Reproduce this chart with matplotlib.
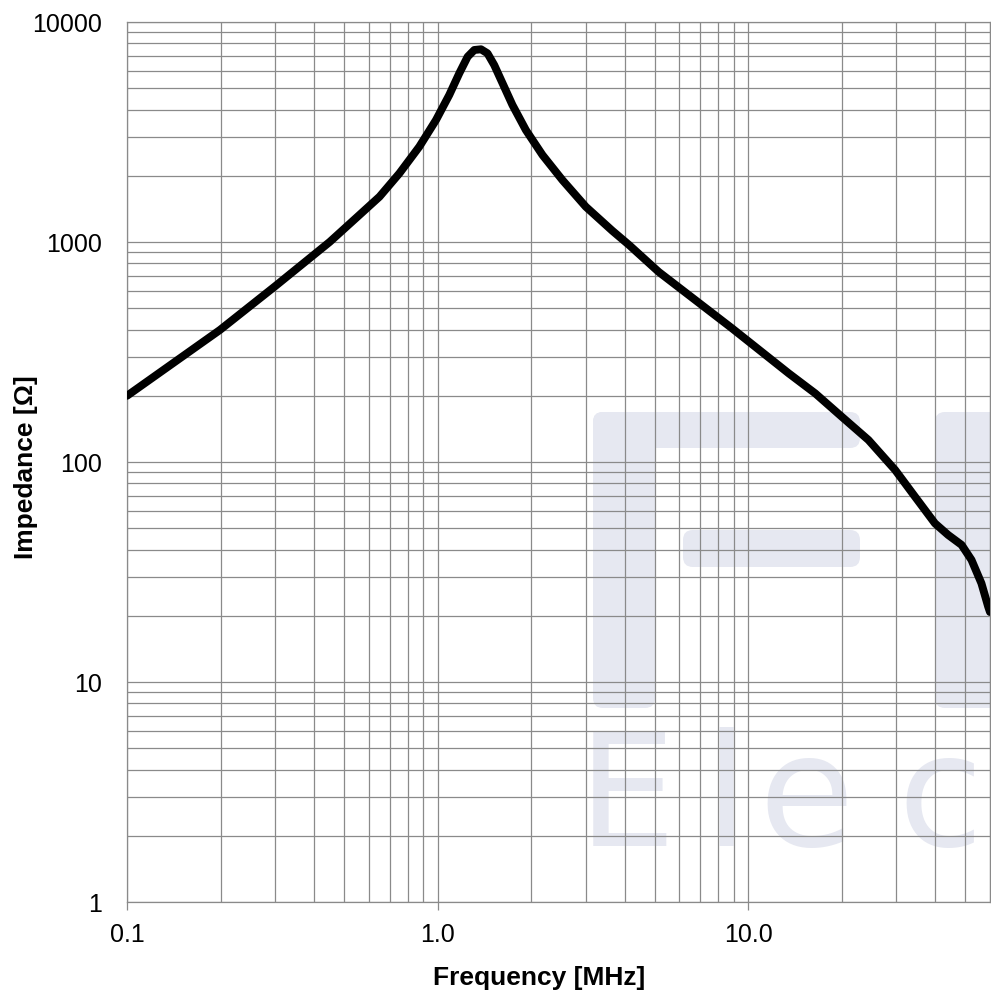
import matplotlib
matplotlib.use('Agg')
import matplotlib.pyplot as plt
from matplotlib.ticker import LogLocator, FixedLocator, FixedFormatter, NullFormatter
from matplotlib.patches import FancyBboxPatch

plt.rcParams['font.family'] = ['Liberation Sans', 'DejaVu Sans']

# --- data (frequency in MHz, impedance in ohm) ---
freq_mhz = [0.1, 0.199, 0.30, 0.449, 0.560, 0.650, 0.753, 0.873, 0.988, 1.090,
            1.174, 1.249, 1.312, 1.379, 1.447, 1.521, 1.618, 1.741, 1.923, 2.175,
            2.521, 2.998, 3.65, 4.13, 5.15, 8.85, 13.49, 16.43, 20.0, 24.37,
            29.7, 34.4, 39.9, 44.0, 48.6, 52.3, 56.3, 59.2, 60.0]
impedance = [200, 398, 630, 1000, 1327, 1607, 2051, 2712, 3585, 4659,
             5845, 6953, 7460, 7515, 7205, 6375, 5265, 4195, 3228, 2486,
             1913, 1447, 1125, 970, 731, 406, 253, 205, 160.6, 125.9,
             92.0, 69.6, 52.6, 46.6, 42.0, 35.9, 28.1, 22.0, 20.8]

x_ticks = [0.1, 1.0, 10.0]
x_tick_labels = ['0.1', '1.0', '10.0']
y_ticks = [1, 10, 100, 1000, 10000]
y_tick_labels = ['1', '10', '100', '1000', '10000']

fig = plt.figure(figsize=(9.91, 9.97), dpi=100)
ax = fig.add_axes([127 / 991, 95 / 997, 863 / 991, 880 / 997])
ax.set_facecolor('none')

# marca d'agua apagada atras da grade
wm = '#e6e8f1'
def caixa(x0, y0, x1, y1):
    # caixa em pixels -> coordenadas da figura
    p = FancyBboxPatch((x0 / 991, 1 - y1 / 997), (x1 - x0) / 991, (y1 - y0) / 997,
                       boxstyle='round,pad=0,rounding_size=0.01',
                       transform=fig.transFigure, facecolor=wm, edgecolor='none', zorder=-5)
    fig.patches.append(p)

caixa(593, 412, 655, 708)
caixa(593, 412, 860, 448)
caixa(683, 530, 860, 567)
caixa(935, 412, 1010, 708)
# letras espacadas do "Elec"
for letra, xpix in [('E', 578), ('l', 704), ('e', 758), ('c', 897)]:
    fig.text(xpix / 991, 1 - 846 / 997, letra, fontsize=112, color=wm,
             family='DejaVu Sans', ha='left', va='baseline', zorder=-5)

ax.plot(freq_mhz, impedance, color='black', lw=5.7, solid_capstyle='round',
        solid_joinstyle='round', zorder=3)

ax.set_xscale('log')
ax.set_yscale('log')
ax.set_xlim(0.1, 60)
ax.set_ylim(1, 10000)

ax.xaxis.set_major_locator(FixedLocator(x_ticks))
ax.xaxis.set_major_formatter(FixedFormatter(x_tick_labels))
ax.yaxis.set_major_locator(FixedLocator(y_ticks))
ax.yaxis.set_major_formatter(FixedFormatter(y_tick_labels))
ax.xaxis.set_minor_locator(LogLocator(base=10, subs=range(2, 10), numticks=20))
ax.yaxis.set_minor_locator(LogLocator(base=10, subs=range(2, 10), numticks=20))
ax.xaxis.set_minor_formatter(NullFormatter())
ax.yaxis.set_minor_formatter(NullFormatter())

ax.grid(True, which='both', color='#8a8a8a', lw=0.9)
ax.set_axisbelow(True)
for s in ax.spines.values():
    s.set_color('#8a8a8a')
    s.set_linewidth(0.9)

ax.tick_params(axis='x', which='major', length=6, width=0.9, color='#8a8a8a',
               labelsize=18, pad=9)
ax.tick_params(axis='y', which='major', length=0, labelsize=18, pad=18)
ax.tick_params(which='minor', length=0)

ax.set_xlabel('Frequency [MHz]', fontsize=19, fontweight='bold')
ax.set_ylabel('Impedance [Ω]', fontsize=19, fontweight='bold')
ax.xaxis.set_label_coords(0.477, -0.073)
ax.yaxis.set_label_coords(-0.103, 0.494)

fig.savefig('out.png', dpi=100)
